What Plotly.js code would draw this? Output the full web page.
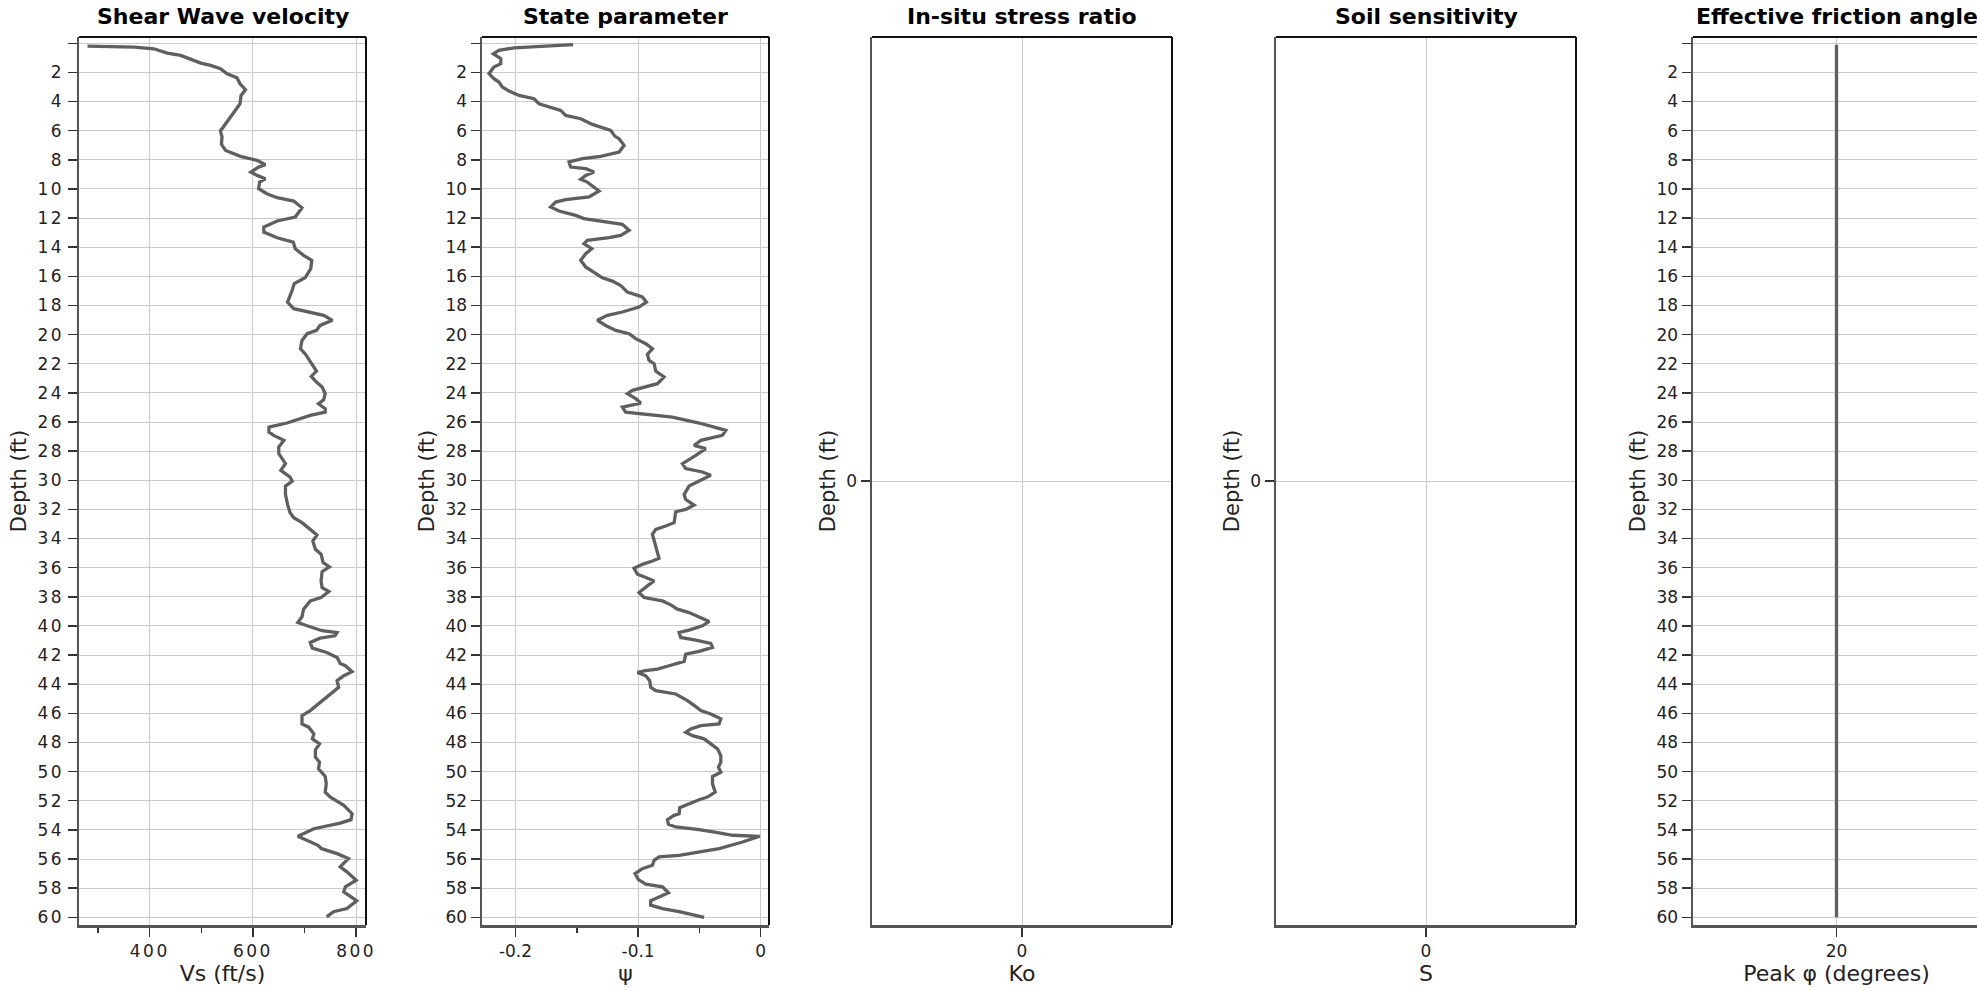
<!DOCTYPE html>
<html><head><meta charset="utf-8">
<script src="https://cdn.plot.ly/plotly-3.0.1.min.js"></script>
<style>
html,body{margin:0;padding:0;overflow:hidden;background:#fff;}
#chart{width:2018px;height:990px;}
.xtick text,.ytick text{letter-spacing:2.5px;}
</style></head><body><div id="chart"></div><script>
// ---------- data ----------
const panelTitles = ['Shear Wave velocity','State parameter','In-situ stress ratio','Soil sensitivity','Effective friction angle'];
const xTitles = ['Vs (ft/s)','ψ','Ko','S','Peak φ (degrees)'];
const yTitle = 'Depth (ft)';

const depthVs = [0.19,0.26,0.38,0.67,0.83,1.13,1.36,1.52,1.75,2.09,2.37,2.78,3.19,3.58,4.15,4.6,5.06,5.64,6.02,6.43,6.94,7.36,7.76,8.04,8.34,8.5,8.84,9.07,9.3,9.53,9.98,10.33,10.6,10.83,11.29,11.93,12.2,12.62,12.96,13.35,13.65,14.1,14.56,14.9,15.47,16.1,16.5,16.96,17.37,17.77,18.22,18.45,18.68,19.02,19.37,19.71,19.94,20.4,20.97,21.36,22.0,22.5,22.87,23.26,23.6,24.06,24.47,24.75,25.09,25.32,25.55,25.78,26.07,26.35,26.69,26.92,27.26,27.72,28.17,28.86,29.32,29.78,30.06,30.4,30.97,31.66,32.23,32.57,32.91,33.37,33.76,34.17,34.74,35.08,35.65,35.95,36.27,36.91,37.37,37.64,38.05,38.28,38.85,39.37,39.76,39.99,40.33,40.45,40.68,40.84,41.13,41.52,41.82,42.16,42.57,42.73,43.14,43.42,43.76,44.21,44.67,45.17,45.81,46.16,46.73,46.95,47.41,47.75,48.1,48.51,49.01,49.35,49.81,50.33,50.84,51.41,51.75,52.32,52.89,53.3,53.53,53.92,54.44,55.06,55.29,55.63,55.97,56.54,56.88,57.46,57.91,58.26,58.87,59.4,59.62,59.97];
const vs = [279.5,370,408,434,460,482,499,518,537,550,569,575,585.5,577,575,566,556.5,545,537,540,539,547,576,608,624,611,596,608,624,613,611,627,647,679,695,682,647,621,621,647,678,682,698,714,712,701,680,676,672,667,679,711,737,754,730,723,705,695,692,702,714,723,713,723,734,740,737,727,740,740,711,689,666,631,631,640,660,650,650,663,654,672,676,663,663,667,672,679,695,711,724,716,721,732,736,748,734,732,734,747,732,711,698,695,687,705,734,763,759,730,711,715,743,763,769,779,792,776,763,766,750,734,711,695,695,708,718,715,729,721,721,729,727,740,742,740,750,776,792,790,769,718,687,726,733,763,785,769,782,800,779,776,801,782,756,743];

const depthPsi = [0.1,0.31,0.49,0.72,1.06,1.4,1.63,2.09,2.43,2.66,3.0,3.28,3.58,3.81,4.15,4.38,4.61,4.95,5.18,5.57,5.8,5.98,6.39,6.55,7.01,7.47,7.76,7.92,8.15,8.5,8.61,8.84,9.07,9.34,9.53,10.14,10.55,10.74,10.9,11.24,11.52,11.82,12.04,12.27,12.43,12.84,13.19,13.35,13.53,13.76,14.1,14.45,14.9,15.36,15.82,16.1,16.33,16.63,17.08,17.31,17.42,17.77,18.11,18.45,18.68,19.02,19.37,19.71,19.94,20.28,20.63,20.97,21.36,21.77,22.0,22.5,22.91,23.37,23.6,23.83,24.06,24.4,24.7,24.98,25.32,25.48,25.66,26.07,26.46,26.57,26.92,27.26,27.61,27.83,28.29,28.86,29.2,29.43,29.66,30.01,30.4,30.97,31.32,31.7,32.0,32.16,32.68,32.91,33.14,33.37,33.71,34.12,34.44,34.97,35.36,35.54,35.77,36.04,36.45,36.68,36.91,37.25,37.71,38.05,38.28,38.55,38.85,39.08,39.37,39.69,39.99,40.29,40.45,40.79,40.97,41.2,41.47,41.75,41.93,42.43,42.73,42.96,43.07,43.19,43.42,43.76,44.21,44.44,44.67,45.13,45.54,45.81,46.04,46.38,46.73,46.84,47.07,47.3,47.53,47.75,48.1,48.44,48.9,49.35,49.69,50.04,50.33,50.84,51.41,51.75,51.93,52.25,52.48,52.89,53.0,53.3,53.62,53.8,53.98,54.21,54.37,54.44,54.83,55.29,55.52,55.75,55.86,56.09,56.43,56.66,57.0,57.41,57.73,57.91,58.32,58.6,58.87,59.17,59.4,59.62,59.85,60.01];
const psi = [-0.153,-0.201,-0.2135,-0.218,-0.212,-0.212,-0.2176,-0.2216,-0.2176,-0.2135,-0.2107,-0.2053,-0.1971,-0.1849,-0.1808,-0.1727,-0.1631,-0.159,-0.1468,-0.1373,-0.1291,-0.1223,-0.1188,-0.1155,-0.1114,-0.1155,-0.1305,-0.1454,-0.1563,-0.155,-0.1427,-0.1359,-0.1427,-0.1468,-0.1414,-0.1318,-0.14,-0.159,-0.1672,-0.1713,-0.1645,-0.1509,-0.1441,-0.1264,-0.1128,-0.1073,-0.1141,-0.1237,-0.1414,-0.1441,-0.1378,-0.1427,-0.1468,-0.1427,-0.1346,-0.1291,-0.121,-0.1141,-0.1087,-0.1005,-0.0965,-0.0932,-0.0992,-0.1128,-0.125,-0.1332,-0.1264,-0.1182,-0.1073,-0.1019,-0.0937,-0.0883,-0.0924,-0.091,-0.0869,-0.0856,-0.0788,-0.0842,-0.0951,-0.1046,-0.1087,-0.1019,-0.0978,-0.1128,-0.1101,-0.0937,-0.072,-0.0502,-0.0339,-0.0284,-0.0312,-0.0488,-0.0543,-0.0448,-0.0529,-0.0638,-0.0611,-0.0475,-0.0407,-0.0488,-0.0584,-0.0624,-0.0611,-0.0543,-0.0611,-0.0693,-0.0706,-0.0706,-0.0774,-0.0856,-0.0883,-0.0869,-0.0856,-0.0842,-0.0829,-0.0883,-0.0965,-0.1033,-0.1005,-0.0937,-0.0869,-0.0924,-0.0992,-0.0951,-0.0801,-0.0733,-0.0679,-0.0584,-0.0502,-0.042,-0.0475,-0.0584,-0.0665,-0.0652,-0.0529,-0.0407,-0.0393,-0.0502,-0.0611,-0.0624,-0.0747,-0.0842,-0.0937,-0.1005,-0.0937,-0.0905,-0.0897,-0.0856,-0.0693,-0.0597,-0.0529,-0.0488,-0.0407,-0.0325,-0.0339,-0.0488,-0.057,-0.0611,-0.0556,-0.0461,-0.0407,-0.0352,-0.0325,-0.0325,-0.0344,-0.0325,-0.0393,-0.0393,-0.0371,-0.0434,-0.0502,-0.0597,-0.066,-0.0665,-0.0706,-0.076,-0.0752,-0.0693,-0.0502,-0.0339,-0.023,-0.0007,-0.0148,-0.0339,-0.0502,-0.0665,-0.0829,-0.0869,-0.0883,-0.0965,-0.1024,-0.0997,-0.0937,-0.0801,-0.0752,-0.0829,-0.0897,-0.0897,-0.0801,-0.0665,-0.0556,-0.0461];

const depthKo = [];
const ko = [];
const depthS = [];
const sens = [];
const depthPhi = [0.1, 60];
const phi = [20, 20];

const depthTickVals = [0,2,4,6,8,10,12,14,16,18,20,22,24,26,28,30,32,34,36,38,40,42,44,46,48,50,52,54,56,58,60];
const depthTickText = ['','2','4','6','8','10','12','14','16','18','20','22','24','26','28','30','32','34','36','38','40','42','44','46','48','50','52','54','56','58','60'];
const psiTickVals = [-0.2,-0.1,0];
const psiTickText = ['-0.2','-0.1','0'];

// ---------- layout ----------
const W = 2018, H = 990;
const px = [[79,366],[482,769],[872,1172],[1276,1576],[1693,1980]];
const font = 'DejaVu Sans, Verdana, sans-serif';
const lineColor = '#5f5f5f';

const traces = [
  {x: vs, y: depthVs, xaxis:'x', yaxis:'y'},
  {x: psi, y: depthPsi, xaxis:'x2', yaxis:'y2'},
  {x: ko, y: depthKo, xaxis:'x3', yaxis:'y3'},
  {x: sens, y: depthS, xaxis:'x4', yaxis:'y4'},
  {x: phi, y: depthPhi, xaxis:'x5', yaxis:'y5'}
].map(t => Object.assign(t, {type:'scatter', mode:'lines', line:{color:lineColor, width:3.3}, showlegend:false, hoverinfo:'skip'}));

const baseAx = {
  showline:true, linecolor:'#555', linewidth:2.5, mirror:false,
  ticks:'outside', ticklen:9, tickwidth:1.5, tickcolor:'#333',
  showgrid:true, gridcolor:'#cbcbcb', gridwidth:1, zeroline:false,
  tickfont:{family:font, size:17, color:'#222'},
  automargin:false
};
const layout = {
  width:W, height:H, margin:{l:0,r:0,t:37,b:65},
  paper_bgcolor:'#fff', plot_bgcolor:'#fff',
  font:{family:font, color:'#222'},
  annotations:[], shapes:[]
};
const xRanges = [[263,819],[-0.2273,0.0068],[-1,1],[-1,1],[19,21]];
for (let i=0;i<5;i++){
  const s = i===0 ? '' : String(i+1);
  const xa = Object.assign({}, baseAx, {
    domain:[px[i][0]/W, px[i][1]/W], anchor:'y'+s, range:xRanges[i],
    title:{text:xTitles[i], font:{family:font, size:22, color:'#222'}, standoff:5}
  });
  const ya = Object.assign({}, baseAx, {
    domain:[0,1], anchor:'x'+s,
    title:{text:yTitle, font:{family:font, size:21, color:'#222'}, standoff:5}
  });
  if (i===0){ Object.assign(xa,{tick0:0,dtick:200, minor:{tick0:0,dtick:100,ticks:'outside',ticklen:5,tickwidth:1.5,tickcolor:'#333',showgrid:false}}); }
  if (i===1){ Object.assign(xa,{tickmode:'array',tickvals:psiTickVals,ticktext:psiTickText, minor:{tick0:0,dtick:0.05,ticks:'outside',ticklen:5,tickwidth:1.5,tickcolor:'#333',showgrid:false}}); }
  if (i>=2){ Object.assign(xa,{tickmode:'array',tickvals:[0]}); }
  if (i===4){ Object.assign(xa,{tickmode:'array',tickvals:[20]}); }
  if (i===2 || i===3){
    Object.assign(ya,{range:[1,-1], tickmode:'array', tickvals:[0]});
  } else {
    Object.assign(ya,{range:[60.53,-0.43], tickmode:'array', tickvals:depthTickVals, ticktext:depthTickText});
  }
  layout['xaxis'+s] = xa;
  layout['yaxis'+s] = ya;
  layout.annotations.push({
    text:panelTitles[i], xref:'x'+s+' domain', yref:'paper', x:0.5, y:1,
    xanchor:'center', yanchor:'bottom', yshift:6, showarrow:false,
    font:{family:font, size:22, color:'#000', weight:'bold'}
  });
  layout.shapes.push({type:'line', xref:'x'+s+' domain', yref:'y'+s+' domain', x0:0, x1:1, y0:1, y1:1, line:{color:'#111', width:2}});
  layout.shapes.push({type:'line', xref:'x'+s+' domain', yref:'y'+s+' domain', x0:1, x1:1, y0:0, y1:1, line:{color:'#111', width:2}});
}
Plotly.newPlot('chart', traces, layout, {staticPlot:true, displayModeBar:false});
</script></body></html>
